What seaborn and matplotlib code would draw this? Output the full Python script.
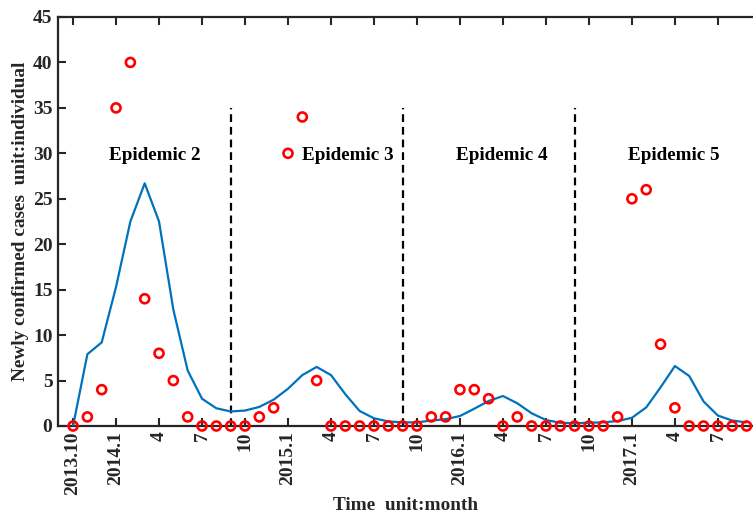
import numpy as np
import pandas as pd
import matplotlib
matplotlib.use("Agg")
import matplotlib.pyplot as plt
import seaborn as sns

# ---- data ----
observed = [0, 1, 4, 35, 40, 14, 8, 5, 1, 0, 0, 0,
            0, 1, 2, 30, 34, 5, 0, 0, 0, 0, 0, 0,
            0, 1, 1, 4, 4, 3, 0, 1, 0, 0, 0, 0,
            0, 0, 1, 25, 26, 9, 2, 0, 0, 0, 0, 0]
fitted = [0, 7.9, 9.2, 15.3, 22.5, 26.7, 22.5, 12.8, 6.1, 3.0, 1.95, 1.6,
          1.7, 2.1, 2.9, 4.1, 5.6, 6.5, 5.6, 3.5, 1.65, 0.85, 0.5, 0.4,
          0.4, 0.6, 0.75, 1.1, 1.9, 2.75, 3.3, 2.5, 1.4, 0.66, 0.36, 0.3,
          0.36, 0.4, 0.55, 0.9, 2.05, 4.25, 6.6, 5.5, 2.7, 1.15, 0.6, 0.4]
tick_labels = ["2013.10", "2014.1", "4", "7", "10", "2015.1", "4", "7",
               "10", "2016.1", "4", "7", "10", "2017.1", "4", "7"]
divider_months = [11, 23, 35]
epidemic_labels = ["Epidemic 2", "Epidemic 3", "Epidemic 4", "Epidemic 5"]
epidemic_label_x = [5.7, 19.2, 29.9, 41.9]

months = np.arange(len(observed))
df = pd.DataFrame({"month": months, "observed": observed, "fitted": fitted})

sns.set_style("ticks")
plt.rcParams["font.family"] = ["Liberation Serif", "DejaVu Serif"]
plt.rcParams["font.weight"] = "bold"

fig = plt.figure(figsize=(7.53, 5.15), dpi=100)
ax = fig.add_axes([58 / 753, (515 - 426) / 515, (753 - 58) / 753, (426 - 17) / 515])

sns.lineplot(data=df, x="month", y="fitted", ax=ax, color="#0072BD",
             linewidth=1.6, zorder=3)
sns.scatterplot(data=df, x="month", y="observed", ax=ax, marker="o", s=42,
                zorder=4, clip_on=False)
pts = ax.collections[-1]
pts.set_facecolor("none")
pts.set_edgecolor("red")
pts.set_linewidth(1.9)
pts.set_clip_on(False)

for m in divider_months:
    ax.plot([m, m], [0, 35], color="black", linestyle=(0, (3.5, 2.2)),
            linewidth=1.6, zorder=2)

for lab, xx in zip(epidemic_labels, epidemic_label_x):
    ax.text(xx, 29.8, lab, ha="center", va="center", fontsize=13.8,
            fontweight="bold", color="black")

ax.set_xlim(-1.05, 47.45)
ax.set_ylim(0, 45)
ax.set_yticks(np.arange(0, 46, 5))
ax.set_xticks(np.arange(0, 46, 3))
ax.set_xticklabels(tick_labels, rotation=90)

for t in ax.get_xticklabels() + ax.get_yticklabels():
    t.set_fontweight("bold")
    t.set_fontsize(14)
    t.set_color("#262626")

ax.tick_params(axis="both", direction="in", length=6, width=1.5,
               color="#262626", top=True, right=False, pad=4)
for side in ["left", "bottom", "top"]:
    ax.spines[side].set_linewidth(1.6)
    ax.spines[side].set_color("#262626")
ax.spines["right"].set_visible(False)

ax.set_xlabel("Time  unit:month", fontsize=13.9, fontweight="bold", labelpad=1.5)
ax.set_ylabel("Newly confirmed cases  unit:individual", fontsize=13.9,
              fontweight="bold", labelpad=3)

fig.savefig("out.png", dpi=100)
